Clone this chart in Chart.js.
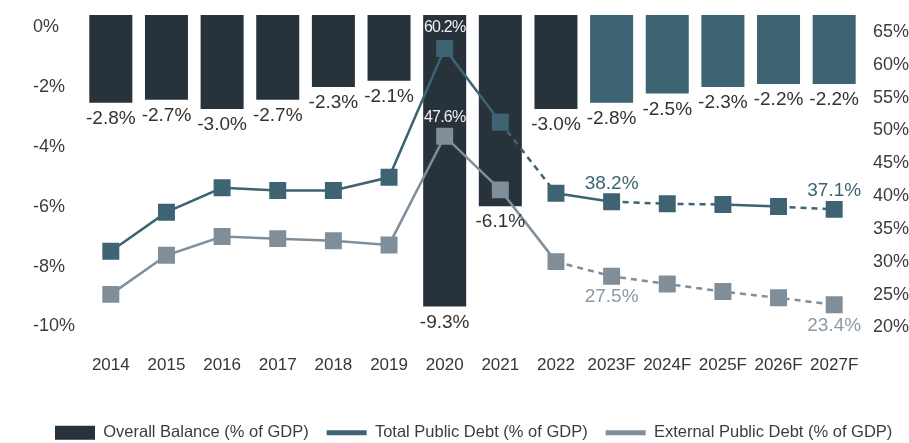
<!DOCTYPE html>
<html>
<head>
<meta charset="utf-8">
<script src="https://cdn.jsdelivr.net/npm/chart.js@4.4.1/dist/chart.umd.min.js"></script>
<style>
  html, body { margin: 0; padding: 0; background: #ffffff; }
  #c { display: block; }
</style>
</head>
<body>
<canvas id="c" width="909" height="443"></canvas>
<script>
// ---- data ----
const years = ['2014','2015','2016','2017','2018','2019','2020','2021','2022','2023F','2024F','2025F','2026F','2027F'];
const overallBalance = [-2.8, -2.7, -3.0, -2.7, -2.3, -2.1, -9.3, -6.1, -3.0, -2.8, -2.5, -2.3, -2.2, -2.2];
const totalPublicDebt = [31.1, 36.7, 40.2, 39.8, 39.8, 41.7, 60.2, 49.6, 39.4, 38.2, 37.9, 37.8, 37.5, 37.1];
const externalPublicDebt = [24.9, 30.5, 33.2, 32.9, 32.6, 32.0, 47.6, 39.9, 29.6, 27.5, 26.4, 25.3, 24.4, 23.4];
const balanceTicks = [0, -2, -4, -6, -8, -10];
const debtTicks = [20, 25, 30, 35, 40, 45, 50, 55, 60, 65];
const seriesNames = ['Overall Balance (% of GDP)', 'Total Public Debt (% of GDP)', 'External Public Debt (% of GDP)'];

// ---- styles ----
const DARK = '#27323a';
const FORECAST = '#3e6372';
const TOTAL = '#3e6372';
const EXTERNAL = '#808e9a';
const TEXT = '#3c3c3c';
const FONT = "'Liberation Sans', Arial, Helvetica, sans-serif";

Chart.defaults.font.family = FONT;
Chart.defaults.color = TEXT;

const totalDashedFrom = new Set([7, 9, 10, 12]);
const DASH = [6, 5];

const layoutTweak = {
  id: 'layoutTweak',
  afterLayout(chart) {
    const yl = chart.scales.yL;
    if (yl) yl.left = 33;
    const lg = chart.legend;
    if (lg) {
      const w = lg.right - lg.left;
      lg.left = 37; lg.right = 37 + w;
      lg.top += 8; lg.bottom += 8;
    }
  }
};

const valueLabels = {
  id: 'valueLabels',
  afterDatasetsDraw(chart) {
    const ctx = chart.ctx;
    ctx.save();
    ctx.textAlign = 'center';
    ctx.textBaseline = 'middle';
    // bar labels
    const barMeta = chart.getDatasetMeta(0);
    ctx.font = '19px ' + FONT;
    ctx.fillStyle = '#333333';
    barMeta.data.forEach((el, i) => {
      const v = chart.data.datasets[0].data[i];
      ctx.fillText(v.toFixed(1) + '%', el.x, el.y + 16);
    });
    // line labels
    const specs = [
      { ds: 1, idx: 6, dy: -21, color: '#f0f0f0', size: 16 },
      { ds: 1, idx: 9, dy: -18, color: TOTAL, size: 19 },
      { ds: 1, idx: 13, dy: -19, color: TOTAL, size: 19 },
      { ds: 2, idx: 6, dy: -19, color: '#f0f0f0', size: 16 },
      { ds: 2, idx: 9, dy: 21, color: '#8d9aa5', size: 19 },
      { ds: 2, idx: 13, dy: 21, color: '#8d9aa5', size: 19 }
    ];
    specs.forEach(s => {
      const el = chart.getDatasetMeta(s.ds).data[s.idx];
      const v = chart.data.datasets[s.ds].data[s.idx];
      ctx.font = s.size + 'px ' + FONT;
      ctx.fillStyle = s.color;
      try { ctx.letterSpacing = s.size < 17 ? '-0.8px' : '0px'; } catch (e) {}
      ctx.fillText(v.toFixed(1) + '%', el.x, el.y + s.dy);
    });
    ctx.restore();
  }
};

new Chart(document.getElementById('c'), {
  data: {
    labels: years,
    datasets: [
      {
        type: 'bar',
        label: seriesNames[0],
        data: overallBalance,
        yAxisID: 'yB',
        order: 3,
        backgroundColor: (c) => (String(years[c.dataIndex] || '').endsWith('F') ? FORECAST : DARK),
        borderWidth: 0,
        barPercentage: 0.773,
        categoryPercentage: 1
      },
      {
        type: 'line',
        label: seriesNames[1],
        data: totalPublicDebt,
        yAxisID: 'yD',
        order: 1,
        borderColor: TOTAL,
        backgroundColor: TOTAL,
        borderWidth: 2.5,
        pointStyle: 'rect',
        pointRadius: 12,
        pointBorderWidth: 0,
        pointBackgroundColor: TOTAL,
        tension: 0,
        segment: {
          borderDash: (s) => (totalDashedFrom.has(s.p0DataIndex) ? DASH : undefined)
        }
      },
      {
        type: 'line',
        label: seriesNames[2],
        data: externalPublicDebt,
        yAxisID: 'yD',
        order: 2,
        borderColor: EXTERNAL,
        backgroundColor: EXTERNAL,
        borderWidth: 2.5,
        pointStyle: 'rect',
        pointRadius: 12,
        pointBorderWidth: 0,
        pointBackgroundColor: EXTERNAL,
        tension: 0,
        segment: {
          borderDash: (s) => (s.p0DataIndex >= 8 ? DASH : undefined)
        }
      }
    ]
  },
  options: {
    responsive: false,
    animation: false,
    devicePixelRatio: 1,
    layout: { padding: { top: 15, left: 0, right: 0, bottom: 0 } },
    plugins: {
      tooltip: { enabled: false },
      legend: {
        position: 'bottom',
        align: 'start',
        labels: {
          usePointStyle: true,
          pointStyleWidth: 40,
          boxHeight: 14,
          padding: 18,
          color: TEXT,
          font: { size: 16.5, family: FONT },
          generateLabels: (chart) => chart.data.datasets.map((ds, i) => ({
            text: ds.label,
            fillStyle: i === 0 ? DARK : ds.borderColor,
            strokeStyle: i === 0 ? DARK : ds.borderColor,
            lineWidth: i === 0 ? 0 : 5,
            pointStyle: i === 0 ? 'rect' : 'line',
            fontColor: TEXT,
            hidden: false,
            datasetIndex: i
          }))
        }
      }
    },
    scales: {
      x: {
        type: 'category',
        offset: true,
        grid: { display: false, drawTicks: false },
        border: { display: false },
        ticks: { padding: 27, color: '#363636', font: { size: 17 }, maxRotation: 0, autoSkip: false },
        afterFit: (s) => { s.height = 70; s.paddingLeft = 0; s.paddingRight = 0; }
      },
      yL: {
        type: 'linear',
        position: 'left',
        min: -10.0667,
        max: 0.4,
        grid: { display: false, drawTicks: false },
        border: { display: false },
        afterBuildTicks: (s) => { s.ticks = balanceTicks.map(v => ({ value: v })); },
        ticks: { crossAlign: 'far', padding: 0, color: TEXT, font: { size: 18 }, callback: (v) => v + '%' },
        afterFit: (s) => { s.width = 83; s.paddingTop = 0; s.paddingBottom = 0; }
      },
      yR: {
        type: 'linear',
        position: 'right',
        min: 19.85,
        max: 67.58,
        grid: { display: false, drawTicks: false },
        border: { display: false },
        afterBuildTicks: (s) => { s.ticks = debtTicks.map(v => ({ value: v })); },
        ticks: { crossAlign: 'near', padding: 11, color: TEXT, font: { size: 18 }, callback: (v) => v + '%' },
        afterFit: (s) => { s.width = 47; s.paddingTop = 0; s.paddingBottom = 0; }
      },
      yB: { type: 'linear', display: false, min: -10, max: 0 },
      yD: { type: 'linear', display: false, min: 20, max: 65 }
    }
  },
  plugins: [layoutTweak, valueLabels]
});
</script>
</body>
</html>
